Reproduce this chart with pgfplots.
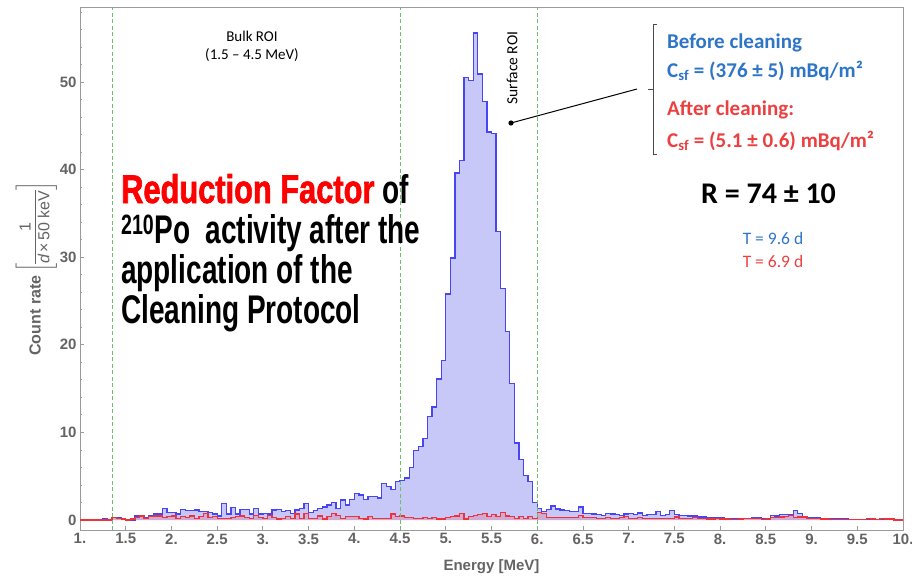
\documentclass[border=0pt]{standalone}
\usepackage{amsmath}
\usepackage{pgfplots}
\pgfplotsset{compat=1.18}
\usepackage{pgfplotstable}
\usepackage{fontspec}
\setmainfont{Liberation Sans}
\newfontfamily\calibri{Carlito}
\newfontfamily\condfont[FakeStretch=0.70]{Liberation Sans}
\newfontfamily\condheavy[FakeStretch=0.77, BoldFeatures={FakeBold=1.5}]{Liberation Sans}

\definecolor{histblue}{RGB}{70,70,245}
\definecolor{histbluefill}{RGB}{200,200,248}
\definecolor{histred}{RGB}{238,50,60}
\definecolor{roigreen}{RGB}{110,190,110}
\definecolor{framegray}{RGB}{155,155,155}
\definecolor{labgray}{RGB}{100,100,100}
\definecolor{txtblue}{RGB}{46,117,200}
\definecolor{txtred}{RGB}{236,64,64}

% bin left edge (MeV), before cleaning, after cleaning (counts / d / 50 keV)
\pgfplotstableread{
E    blue  red
1.00 0     0
1.05 0     0
1.10 0     0
1.15 0     0
1.20 0     0
1.25 0.1   0
1.30 0     0
1.35 0.3   0.3
1.40 0.3   0.2
1.45 0.1   0.1
1.50 0     0
1.55 0     0.1
1.60 0.45  0.3
1.65 0.4   0.45
1.70 0.3   0.15
1.75 0.55  0.4
1.80 0.7   0.45
1.85 0.7   0.45
1.90 1.3   0.3
1.95 0.85  0.4
2.00 0.85  0.45
2.05 0.7   0.2
2.10 1.2   0.4
2.15 1.05  0.3
2.20 1.05  0.45
2.25 1.15  0.15
2.30 1.0   0.4
2.35 0.95  0.75
2.40 0.85  0.3
2.45 0.7   0.4
2.50 0.45  0.2
2.55 1.9   0.2
2.60 0.7   0.15
2.65 1.4   0.3
2.70 0.7   0.4
2.75 1.2   0.45
2.80 1.2   0.3
2.85 0.7   0.15
2.90 1.3   0.55
2.95 0.7   0.3
3.00 0.75  0.2
3.05 0.7   0.55
3.10 1.15  0.3
3.15 1.2   0.1
3.20 1.0   0.15
3.25 1.05  0.4
3.30 0.75  0.15
3.35 1.15  0.7
3.40 1.3   0.15
3.45 1.9   0.75
3.50 0.85  0.15
3.55 1.05  0.15
3.60 1.3   0.45
3.65 1.5   0.1
3.70 1.7   0.4
3.75 2.0   0.75
3.80 1.3   0.55
3.85 2.3   0.15
3.90 1.7   0.4
3.95 2.35  0.4
4.00 3.0   0.4
4.05 2.85  0.2
4.10 2.35  0.1
4.15 2.65  0.4
4.20 2.65  0.15
4.25 2.5   0.15
4.30 4.2   0.15
4.35 3.8   0.15
4.40 3.5   0.7
4.45 4.4   0.4
4.50 4.5   0.45
4.55 4.8   0.3
4.60 6.0   0.3
4.65 7.9   0.15
4.70 8.4   0.15
4.75 9.3   0.3
4.80 11.8  0.15
4.85 12.9  0.3
4.90 16.1  0.1
4.95 18.2  0.1
5.00 25.8  0.25
5.05 29.9  0.4
5.10 39.6  0.45
5.15 41.0  0.75
5.20 50.5  0.1
5.25 50.2  0.4
5.30 55.6  0.55
5.35 50.9  0.65
5.40 47.8  0.75
5.45 44.3  0.4
5.50 44.1  0.65
5.55 32.9  0.4
5.60 26.4  0.85
5.65 21.5  0.45
5.70 15.6  0.4
5.75 8.8   0.2
5.80 6.9   0.4
5.85 5.1   0.2
5.90 4.4   0.4
5.95 2.0   0.2
6.00 1.3   0.85
6.05 0.95  0.75
6.10 1.2   0.3
6.15 1.6   0.3
6.20 1.25  0.3
6.25 1.15  0.3
6.30 1.05  0.25
6.35 1.0   0.25
6.40 0.95  0.3
6.45 1.5   0.55
6.50 0.75  0.3
6.55 0.75  0.25
6.60 0.7   0.25
6.65 0.65  0.2
6.70 0.55  0.2
6.75 0.75  0.3
6.80 0.7   0.2
6.85 0.65  0.2
6.90 0.55  0.3
6.95 0.7   0.4
7.00 0.75  0.2
7.05 0.6   0.2
7.10 0.8   0.25
7.15 0.5   0.15
7.20 0.65  0.2
7.25 0.6   0.2
7.30 0.95  0.2
7.35 0.55  0.15
7.40 0.6   0.2
7.45 1.05  0.2
7.50 0.6   0.35
7.55 0.5   0.2
7.60 0.5   0.15
7.65 0.45  0.15
7.70 0.45  0.3
7.75 0.35  0.15
7.80 0.35  0.15
7.85 0.3   0.1
7.90 0.3   0.1
7.95 0.3   0.15
8.00 0.3   0.1
8.05 0.2   0.1
8.10 0.15  0.05
8.15 0.15  0.05
8.20 0.15  0.1
8.25 0.15  0.2
8.30 0.15  0.2
8.35 0.25  0.2
8.40 0.25  0.2
8.45 0.15  0.05
8.50 0.2   0.1
8.55 0.5   0.3
8.60 0.45  0.3
8.65 0.65  0.35
8.70 0.65  0.4
8.75 0.65  0.5
8.80 1.05  0.25
8.85 0.75  0.35
8.90 0.4   0.35
8.95 0.3   0.2
9.00 0.3   0.2
9.05 0.25  0.15
9.10 0.2   0.1
9.15 0.2   0.1
9.20 0.15  0.05
9.25 0.15  0.05
9.30 0.1   0.05
9.35 0.1   0.05
9.40 0.05  0.05
9.45 0.05  0.05
9.50 0.05  0.05
9.55 0.05  0.05
9.60 0.1   0.2
9.65 0.15  0.1
9.70 0.05  0.05
9.75 0.1   0.15
9.80 0.05  0.1
9.85 0.05  0.1
9.90 0.05  0
9.95 0     0
10.00 0    0
}\histdata

\begin{document}
\begin{tikzpicture}
\begin{axis}[
    name=ax,
    at={(80bp,-530bp)}, anchor=south west,
    scale only axis,
    width=823bp, height=523bp,
    xmin=1, xmax=10,
    ymin=-1.14, ymax=58.56,
    xtick={1,1.5,2,2.5,3,3.5,4,4.5,5,5.5,6,6.5,7,7.5,8,8.5,9,9.5,10},
    xticklabels={1.,1.5,2.,2.5,3.,3.5,4.,4.5,5.,5.5,6.,6.5,7.,7.5,8.,8.5,9.,9.5,10.},
    ytick={0,10,20,30,40,50},
    yticklabels={0,10,20,30,40,50},
    minor ytick={2,4,...,58},
    xtick pos=bottom, ytick pos=left,
    axis line style={framegray, line width=0.8bp},
    tick style={framegray, line width=0.8bp},
    major tick length=4bp, minor tick length=2.5bp,
    ticklabel style={font=\fontsize{15bp}{17bp}\selectfont\bfseries, text=labgray},
    xlabel style={font=\fontsize{15bp}{17bp}\selectfont\bfseries, text=labgray},
    ylabel style={font=\fontsize{16bp}{18bp}\selectfont\bfseries, text=labgray, inner sep=0pt},
    xlabel={Energy [MeV]},
    ylabel={Count rate\,$\left[\vcenter{\hbox{\mdseries\begin{tabular}{@{}c@{}}1\\[-1pt]\hline\rule{0pt}{14pt}\itshape d\,\upshape×\,50 keV\end{tabular}}}\right]$},
    xlabel style={at={(axis description cs:0.5,-0.0707)}, anchor=center},
    ylabel style={at={(axis description cs:-0.053,0.5)}, anchor=center},
]
\addplot[const plot mark left, draw=none, fill=histbluefill] table[x=E,y=blue]{\histdata} \closedcycle;
\addplot[const plot mark left, histblue, line width=1.3bp] table[x=E,y=blue]{\histdata};
\addplot[const plot mark left, draw=none, fill=histred, fill opacity=0.2] table[x=E,y=red]{\histdata} \closedcycle;
\addplot[const plot mark left, histred, line width=1.3bp] table[x=E,y=red]{\histdata};

\draw[roigreen, dash pattern=on 4bp off 2.5bp, line width=0.8bp] (axis cs:1.35,-1.14) -- (axis cs:1.35,58.56);
\draw[roigreen, dash pattern=on 4bp off 2.5bp, line width=0.8bp] (axis cs:4.5,-1.14) -- (axis cs:4.5,58.56);
\draw[roigreen, dash pattern=on 4bp off 2.5bp, line width=0.8bp] (axis cs:6.0,-1.14) -- (axis cs:6.0,58.56);
\end{axis}

\begin{scope}[x=1bp, y=-1bp]
  % ROI labels
  \node[anchor=base, inner sep=0, font=\calibri\fontsize{15bp}{17bp}\selectfont] at (252,41) {Bulk ROI};
  \node[anchor=base, inner sep=0, font=\calibri\fontsize{15bp}{17bp}\selectfont] at (252,59) {(1.5 – 4.5 MeV)};
  \node[rotate=90, inner sep=0, font=\calibri\fontsize{15.5bp}{17bp}\selectfont] at (512,68) {Surface ROI};

  % pointer and bracket
  \fill (511,123) circle (2.6bp);
  \draw[line width=1bp] (511,123) -- (637,89);
  \draw[line width=1bp, black!70] (657,24) -- (653,24) -- (653,154) -- (657,154);
  \draw[line width=1bp, black!70] (648,89) -- (653,89);

  \node[anchor=base west, inner sep=0, text=txtblue, font=\calibri\bfseries\fontsize{21bp}{24bp}\selectfont] at (667,48) {Before cleaning};
  \node[anchor=base west, inner sep=0, text=txtblue, font=\calibri\bfseries\fontsize{21bp}{24bp}\selectfont] at (667,77) {C\textsubscript{sf} = (376 ± 5) mBq/m²};
  \node[anchor=base west, inner sep=0, text=txtred, font=\calibri\bfseries\fontsize{21bp}{24bp}\selectfont] at (667,115) {After cleaning:};
  \node[anchor=base west, inner sep=0, text=txtred, font=\calibri\bfseries\fontsize{21bp}{24bp}\selectfont] at (667,147) {C\textsubscript{sf} = (5.1 ± 0.6) mBq/m²};

  \node[anchor=base west, inner sep=0, font=\calibri\bfseries\fontsize{30bp}{32bp}\selectfont] at (701,203) {R = 74 ± 10};
  \node[anchor=base, inner sep=0, text=txtblue, font=\calibri\fontsize{17.5bp}{20bp}\selectfont] at (773,244) {T = 9.6 d};
  \node[anchor=base, inner sep=0, text=txtred, font=\calibri\fontsize{17.5bp}{20bp}\selectfont] at (773,267) {T = 6.9 d};

  % headline text
  \node[anchor=base west, inner sep=0, font=\condfont\bfseries\fontsize{40bp}{40bp}\selectfont] at (121,203) {{\condheavy\color{red}Reduction Factor} of};
  \node[anchor=base west, inner sep=0, font=\condfont\bfseries\fontsize{40bp}{40bp}\selectfont] at (121,243) {\textsuperscript{210}Po\ \ activity after the};
  \node[anchor=base west, inner sep=0, font=\condfont\bfseries\fontsize{40bp}{40bp}\selectfont] at (121,283) {application of the};
  \node[anchor=base west, inner sep=0, font=\condfont\bfseries\fontsize{40bp}{40bp}\selectfont] at (121,323) {Cleaning Protocol};
\end{scope}

\pgfresetboundingbox
\path[use as bounding box] (0,0) rectangle (912bp,-580bp);
\end{tikzpicture}
\end{document}
